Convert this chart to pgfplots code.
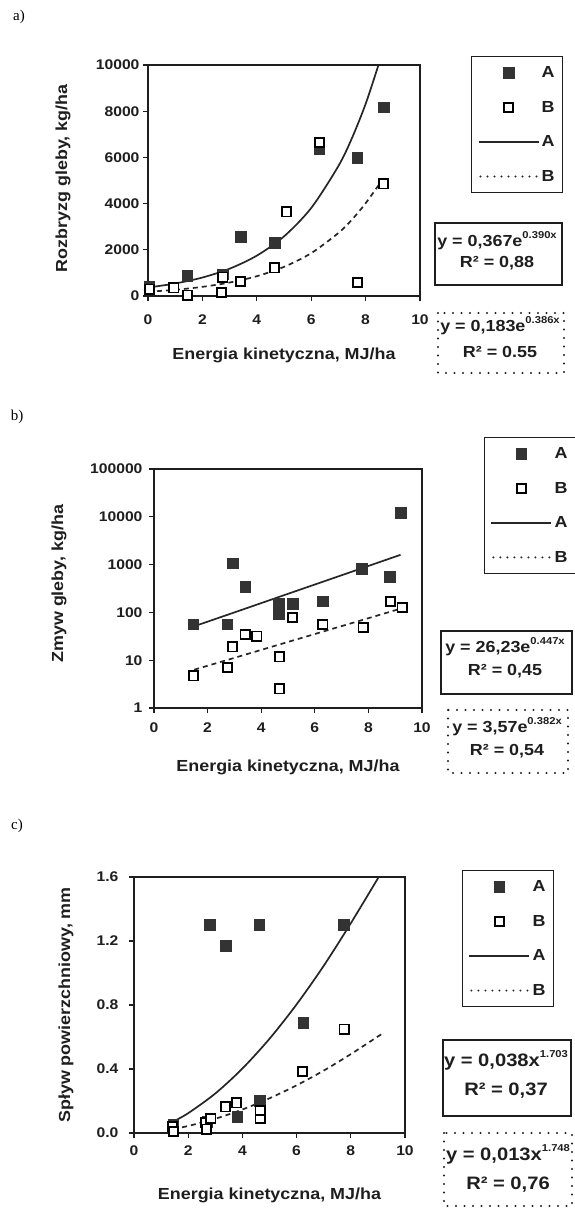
\documentclass[border=0pt]{standalone}
\usepackage{fontspec}
\setmainfont{Liberation Sans}[FakeStretch=1.12]
\newfontfamily\serif{Liberation Serif}
\usepackage{pgfplots}
\pgfplotsset{compat=1.18}
\definecolor{mk}{HTML}{333333}
\definecolor{ln}{HTML}{262626}
\definecolor{tx}{HTML}{1E1E1E}
\newcommand{\sups}[1]{\raisebox{0.5em}{\fontsize{10}{10}\selectfont #1}}
\newcommand{\eqf}{\fontsize{16}{18}\selectfont\bfseries}
\newcommand{\eqc}{\fontsize{18}{20}\selectfont\bfseries}
\newcommand{\labf}{\fontsize{16}{18}\selectfont\bfseries}

\pgfplotsset{
 panel/.style={
  scale only axis,
  axis line style={line width=1.4pt, color=tx},
  tick style={line width=1.2pt, color=tx},
  tick align=outside, major tick length=5pt,
  tick pos=left,
  xmin=0, xmax=10, xtick={0,2,...,10},
  /pgf/number format/assume math mode=true,
  ticklabel style={font=\fontsize{14}{16}\selectfont\bfseries, color=tx},
  legend style={draw=tx, line width=1.3pt, anchor=north west, inner xsep=6pt, inner ysep=8pt,
    row sep=18pt, font=\fontsize{16}{18}\selectfont\bfseries, text=tx, fill=white,
    nodes={inner sep=2pt}, /tikz/every even column/.append style={column sep=1pt}},
  legend cell align=left,
 },
 mA/.style={only marks, mark=square*, mark size=5.3pt, mark options={fill=mk, draw=mk, line width=0.5pt, solid},
   legend image code/.code={\draw[mark=square*, mark size=5.3pt, mark options={fill=mk, draw=mk, line width=0.5pt}] plot coordinates {(30pt,0pt)};}},
 mB/.style={only marks, mark=square*, mark size=4.6pt, mark options={fill=white, draw=black, line width=1.8pt, solid},
   legend image code/.code={\draw[mark=square*, mark size=4.6pt, mark options={fill=white, draw=black, line width=1.8pt}] plot coordinates {(30pt,0pt)};}},
 lA/.style={no marks, line width=1.7pt, color=ln, smooth,
   legend image code/.code={\draw[line width=1.7pt, color=ln] (0pt,0pt) -- (60pt,0pt);}},
 lB/.style={no marks, line width=1.7pt, color=ln, dash pattern=on 5pt off 4pt, smooth,
   legend image code/.code={\draw[line width=2.2pt, color=ln, line cap=round, dash pattern=on 0pt off 7pt] (2pt,0pt) -- (60pt,0pt);}},
}

\begin{document}
\begin{tikzpicture}
\useasboundingbox (0,0) rectangle (574pt,-1208pt);

% ---------------- panel a ----------------
\node[font=\serif\fontsize{15}{15}\selectfont] at (19pt,-17pt) {a)};
\begin{axis}[panel, at={(148pt,-296pt)}, anchor=south west, width=272pt, height=231pt,
  ymin=0, ymax=10000, ytick={0,2000,...,10000}, scaled y ticks=false,
  yticklabel style={/pgf/number format/1000 sep={}},
  xticklabel style={yshift=-10pt},
  xlabel={Energia kinetyczna, MJ/ha}, ylabel={Rozbryzg gleby, kg/ha},
  xlabel style={at={(axis description cs:0.5,-0.255)}, anchor=center, font=\labf, text=tx},
  ylabel style={at={(axis description cs:-0.3125,0.51)}, anchor=center, rotate=0, font=\labf, text=tx},
  legend style={at={(axis description cs:1.1875,1.039)}}]
\addplot[mA] coordinates {(0.05,400) (1.45,880) (2.75,950) (3.4,2560) (4.65,2300) (6.3,6350) (7.7,5980) (8.66,8170)};
\addplot[mB] coordinates {(0.05,300) (0.95,350) (1.45,40) (2.7,140) (2.75,820) (3.4,620) (4.65,1220) (5.1,3640) (6.3,6650) (7.7,575) (8.66,4850)};
\addplot[lA] coordinates {(0,367) (1,542) (2,800) (3,1182) (4,1747) (5,2580) (6,3810) (7,5627) (7.5,6840) (8,8312) (8.47,9990)};
\addplot[lB] coordinates {(0,183) (1,269) (2,396) (3,583) (4,857) (5,1261) (6,1855) (7,2729) (7.5,3309) (8,4015) (8.6,5000)};
\legend{A,B,A,B}
\end{axis}
\draw[line width=1.6pt, tx] (435pt,-223pt) rectangle (562pt,-285pt);
\node[font=\eqf, text=tx] at (497pt,-241pt) {y = 0,367e\sups{0.390x}};
\node[font=\eqf, text=tx] at (497pt,-263pt) {R² = 0,88};
\draw[line width=2.4pt, tx, line cap=round, dash pattern=on 0pt off 8.5pt] (438pt,-313pt) rectangle (564pt,-373pt);
\node[font=\eqf, text=tx] at (500pt,-326pt) {y = 0,183e\sups{0.386x}};
\node[font=\eqf, text=tx] at (500pt,-352pt) {R² = 0.55};

% ---------------- panel b ----------------
\node[font=\serif\fontsize{15}{15}\selectfont] at (17pt,-417pt) {b)};
\begin{axis}[panel, at={(154pt,-708pt)}, anchor=south west, width=268pt, height=239pt,
  ymode=log, ymin=1, ymax=100000, ytick={1,10,100,1000,10000,100000},
  yticklabels={1,10,100,1000,10000,100000}, yminorticks=false,
  xticklabel style={yshift=-6pt}, yticklabel style={xshift=-3pt},
  xlabel={Energia kinetyczna, MJ/ha}, ylabel={Zmyw gleby, kg/ha},
  xlabel style={at={(axis description cs:0.5,-0.247)}, anchor=center, font=\labf, text=tx},
  ylabel style={at={(axis description cs:-0.354,0.52)}, anchor=center, rotate=0, font=\labf, text=tx},
  legend style={at={(axis description cs:1.231,1.134)}}]
\addplot[mA] coordinates {(1.47,56) (2.74,56) (2.93,1070) (3.40,345) (4.65,150) (4.65,95) (5.17,150) (6.3,172) (7.76,810) (8.8,560) (9.21,12000)};
\addplot[mB] coordinates {(1.47,4.7) (2.74,7.0) (2.94,19) (3.40,35) (3.84,32) (4.69,11.7) (4.69,2.5) (5.17,79) (6.3,56) (7.8,48) (8.82,167) (9.26,125)};
\addplot[lA] coordinates {(1.5,51.3) (3,100) (5,245) (7,599) (9.2,1603)};
\addplot[lB] coordinates {(1.5,6.33) (3,11.2) (5,24.1) (7,51.7) (9.25,122)};
\legend{A,B,A,B}
\end{axis}
\draw[line width=1.6pt, tx] (441pt,-631pt) rectangle (572pt,-694pt);
\node[font=\eqf, text=tx] at (505pt,-647pt) {y = 26,23e\sups{0.447x}};
\node[font=\eqf, text=tx] at (505pt,-671pt) {R² = 0,45};
\draw[line width=2.4pt, tx, line cap=round, dash pattern=on 0pt off 8.5pt] (448pt,-710pt) rectangle (568pt,-773pt);
\node[font=\eqf, text=tx] at (507pt,-727pt) {y = 3,57e\sups{0.382x}};
\node[font=\eqf, text=tx] at (507pt,-751pt) {R² = 0,54};

% ---------------- panel c ----------------
\node[font=\serif\fontsize{15}{15}\selectfont] at (17pt,-826pt) {c)};
\begin{axis}[panel, at={(134pt,-1133pt)}, anchor=south west, width=271pt, height=256pt,
  ymin=0, ymax=1.6, ytick={0,0.4,0.8,1.2,1.6},
  yticklabel style={/pgf/number format/fixed, /pgf/number format/fixed zerofill, /pgf/number format/precision=1, xshift=-7pt},
  xticklabel style={yshift=-4pt},
  xlabel={Energia kinetyczna, MJ/ha}, ylabel={Spływ powierzchniowy, mm},
  xlabel style={at={(axis description cs:0.5,-0.242)}, anchor=center, font=\labf, text=tx},
  ylabel style={at={(axis description cs:-0.251,0.5)}, anchor=center, rotate=0, font=\labf, text=tx},
  legend style={at={(axis description cs:1.210,1.027)}}]
\addplot[mA] coordinates {(1.45,0.05) (2.7,0.07) (2.8,1.30) (3.38,1.17) (4.62,1.30) (7.75,1.30) (6.25,0.69) (3.81,0.10) (4.65,0.20)};
\addplot[mB] coordinates {(1.41,0.042) (1.45,0.01) (2.65,0.067) (2.84,0.09) (2.68,0.025) (3.38,0.163) (3.79,0.188) (4.65,0.09) (4.65,0.14) (6.21,0.383) (7.75,0.649)};
\addplot[lA] coordinates {(1.45,0.072) (2,0.124) (3,0.247) (4,0.403) (5,0.589) (6,0.804) (7,1.045) (8,1.311) (9.03,1.60)};
\addplot[lB] coordinates {(1.45,0.025) (2,0.044) (3,0.089) (4,0.147) (5,0.217) (6,0.298) (7,0.390) (8,0.493) (9.15,0.62)};
\legend{A,B,A,B}
\end{axis}
\draw[line width=1.6pt, tx] (443pt,-1040pt) rectangle (571pt,-1116pt);
\node[font=\eqc, text=tx] at (506pt,-1060pt) {y = 0,038x\sups{1.703}};
\node[font=\eqc, text=tx] at (506pt,-1091pt) {R² = 0,37};
\draw[line width=2.4pt, tx, line cap=round, dash pattern=on 0pt off 8.5pt] (444pt,-1133pt) rectangle (572pt,-1206pt);
\node[font=\eqc, text=tx] at (508pt,-1154pt) {y = 0,013x\sups{1.748}};
\node[font=\eqc, text=tx] at (508pt,-1185pt) {R² = 0,76};
\end{tikzpicture}
\end{document}
